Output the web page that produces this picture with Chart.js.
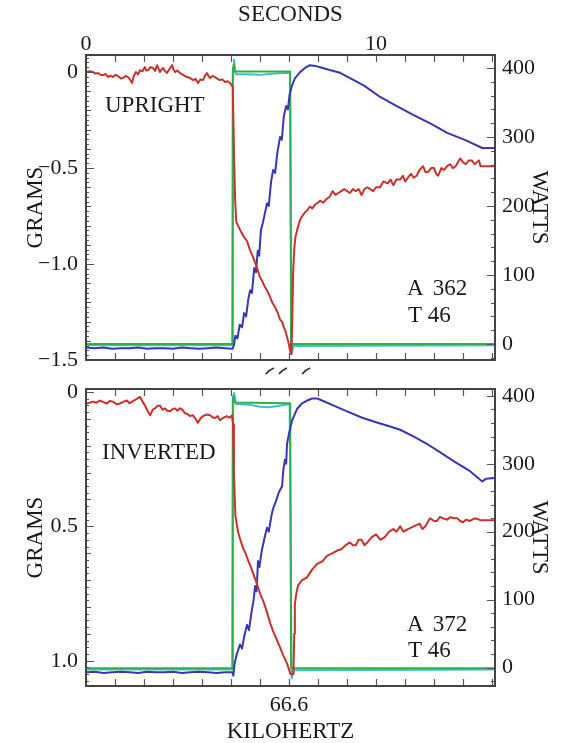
<!DOCTYPE html>
<html>
<head>
<meta charset="utf-8">
<title>Upright / Inverted</title>
<script src="https://cdn.jsdelivr.net/npm/chart.js@4.4.1/dist/chart.umd.min.js"></script>
<style>
    body { margin: 0; background: #fff; font-family: "Liberation Serif", "Times New Roman", Times, serif; }
    .panel { position: absolute; left: 0; width: 568px; }
</style>
</head>
<body>
<div class="panel" style="top:0;height:380px"><canvas id="upChart" width="568" height="380"></canvas></div>
<div class="panel" style="top:370px;height:373px"><canvas id="invChart" width="568" height="373"></canvas></div>
<script>
// tick labels
const secTicks = [0, 10];
const khzTicks = [7];
const khzLabels = ['66.6'];
const upGramTicks = [0, -0.5, -1.0, -1.5];
const invGramTicks = [0, 0.5, 1.0];
const wattTicks = [0, 100, 200, 300, 400];

// UPRIGHT: [seconds, grams]
const upRed = [[0,0],[0.12,0.004],[0.24,0],[0.33,-0.008],[0.41,-0.005],[0.5,-0.014],[0.59,-0.016],[0.68,-0.01],
    [0.76,-0.026],[0.85,-0.018],[0.93,-0.026],[1.02,-0.014],[1.10,-0.021],[1.2,-0.034],[1.28,-0.031],[1.36,-0.02],
    [1.45,-0.026],[1.52,-0.04],[1.59,-0.057],[1.65,-0.02],[1.72,0],[1.8,-0.012],[1.86,0.01],[1.95,0.004],
    [2.03,0.026],[2.08,0.008],[2.14,0.01],[2.22,0.026],[2.31,0.021],[2.38,0.006],[2.45,0.036],[2.55,0],
    [2.6,0.012],[2.66,0.021],[2.72,0.006],[2.79,-0.005],[2.88,0.016],[2.97,0.036],[3.02,0.012],[3.07,0],
    [3.15,0.008],[3.24,-0.005],[3.36,-0.016],[3.48,-0.026],[3.58,-0.03],[3.69,-0.042],[3.78,-0.036],[3.86,-0.057],
    [3.95,-0.038],[4.03,-0.042],[4.1,-0.02],[4.17,-0.005],[4.22,-0.02],[4.28,-0.031],[4.36,-0.02],[4.45,-0.026],
    [4.54,-0.036],[4.62,-0.042],[4.7,-0.038],[4.79,-0.052],[4.88,-0.048],[4.97,-0.057],[5.06,-0.078],
    [5.10,-0.4],[5.14,-0.66],[5.18,-0.78],[5.24,-0.80],[5.34,-0.83],[5.45,-0.86],[5.55,-0.88],[5.66,-0.93],
    [5.75,-0.96],[5.85,-1.0],[6.0,-1.07],[6.08,-1.09],[6.17,-1.12],[6.25,-1.14],[6.34,-1.17],[6.42,-1.2],
    [6.5,-1.22],[6.6,-1.25],[6.69,-1.29],[6.76,-1.3],[6.82,-1.33],[6.88,-1.35],[6.93,-1.38],[7.0,-1.42],
    [7.03,-1.45],[7.08,-1.47],[7.11,-1.3],[7.14,-1.05],[7.18,-0.92],[7.22,-0.86],[7.3,-0.81],[7.38,-0.77],
    [7.46,-0.75],[7.55,-0.73],[7.63,-0.72],[7.72,-0.70],[7.8,-0.71],[7.9,-0.69],[8.0,-0.68],[8.07,-0.67],
    [8.18,-0.68],[8.3,-0.66],[8.4,-0.65],[8.5,-0.62],[8.6,-0.64],[8.7,-0.63],[8.8,-0.62],[8.9,-0.61],[9.0,-0.62],
    [9.1,-0.63],[9.2,-0.61],[9.3,-0.62],[9.4,-0.61],[9.5,-0.64],[9.6,-0.61],[9.7,-0.60],[9.8,-0.61],[9.9,-0.62],
    [10.0,-0.6],[10.14,-0.60],[10.25,-0.57],[10.4,-0.58],[10.5,-0.56],[10.6,-0.59],[10.7,-0.56],[10.83,-0.56],
    [10.92,-0.54],[11.0,-0.57],[11.1,-0.55],[11.2,-0.53],[11.3,-0.55],[11.4,-0.54],[11.5,-0.51],[11.62,-0.49],
    [11.7,-0.52],[11.8,-0.52],[11.9,-0.50],[12.0,-0.50],[12.07,-0.53],[12.14,-0.54],[12.25,-0.5],[12.35,-0.51],
    [12.45,-0.49],[12.55,-0.48],[12.65,-0.5],[12.75,-0.49],[12.82,-0.47],[12.9,-0.45],[13.0,-0.47],[13.1,-0.48],
    [13.2,-0.46],[13.3,-0.46],[13.4,-0.48],[13.48,-0.47],[13.55,-0.46],[13.6,-0.49],[14.1,-0.49]];
// [seconds, watts]
const upBlue = [[0,-5],[0.3,-6],[0.6,-5],[0.9,-7],[1.2,-6],[1.5,-6],[1.8,-5],[2.1,-7],[2.4,-6],[2.7,-6],[3.0,-7],
    [3.3,-5],[3.6,-6],[3.9,-7],[4.2,-6],[4.5,-5],[4.8,-6],[5.05,-7],[5.1,-2],[5.15,12],[5.22,8],[5.3,28],[5.38,24],
    [5.45,45],[5.52,40],[5.6,66],[5.66,78],[5.72,74],[5.8,110],[5.86,104],[5.92,135],[5.97,128],[6.03,165],[6.1,176],
    [6.17,190],[6.24,204],[6.3,200],[6.38,235],[6.45,252],[6.52,248],[6.6,278],[6.69,300],[6.75,296],[6.82,330],
    [6.9,345],[6.96,340],[7.02,362],[7.1,374],[7.2,385],[7.38,394],[7.55,400],[7.72,404],[7.9,403],[8.07,401],
    [8.4,397],[8.76,393],[9.2,383],[9.6,374],[10.14,358],[10.7,345],[11.28,332],[11.9,319],[12.45,306],[13.1,295],
    [13.66,284],[14.1,284]];
const upGreen = [[0,0],[5.04,0],[5.06,395],[5.09,405],[5.13,395],[7.04,395],[7.07,0],[14.1,0]];
const upCyan = [[0,-2],[5.04,-2],[5.07,400],[5.1,412],[5.16,391],[5.5,391],[6.0,390],[6.5,392],[7.03,393],
    [7.09,-14],[7.16,-3],[14.1,-2]];

// INVERTED
const invRed = [[0,0.043],[0.12,0.04],[0.24,0.036],[0.36,0.04],[0.48,0.032],[0.6,0.038],[0.72,0.043],[0.82,0.034],
    [0.93,0.036],[1.05,0.046],[1.17,0.043],[1.3,0.036],[1.41,0.032],[1.5,0.042],[1.59,0.036],[1.72,0.028],
    [1.86,0.018],[1.95,0.036],[2.03,0.05],[2.12,0.07],[2.21,0.087],[2.3,0.066],[2.38,0.061],[2.46,0.052],
    [2.55,0.05],[2.64,0.066],[2.72,0.061],[2.8,0.07],[2.9,0.072],[2.98,0.064],[3.07,0.061],[3.15,0.07],
    [3.24,0.061],[3.32,0.066],[3.41,0.079],[3.5,0.082],[3.59,0.09],[3.68,0.086],[3.76,0.097],[3.86,0.115],
    [3.95,0.098],[4.03,0.09],[4.15,0.084],[4.28,0.087],[4.36,0.094],[4.45,0.097],[4.54,0.09],[4.62,0.105],
    [4.74,0.096],[4.86,0.09],[4.95,0.096],[5.03,0.087],[5.07,0.12],[5.1,0.3],[5.15,0.46],[5.24,0.52],[5.32,0.55],
    [5.41,0.58],[5.5,0.6],[5.6,0.63],[5.68,0.65],[5.76,0.675],[5.88,0.71],[6.0,0.75],[6.12,0.78],[6.24,0.82],
    [6.35,0.86],[6.45,0.89],[6.57,0.92],[6.69,0.95],[6.8,0.98],[6.93,1.01],[7.05,1.05],[7.15,1.05],[7.18,0.9],
    [7.2,0.79],[7.25,0.75],[7.31,0.72],[7.45,0.7],[7.62,0.69],[7.8,0.66],[7.97,0.64],[8.15,0.63],[8.31,0.61],
    [8.5,0.6],[8.66,0.59],[8.8,0.585],[8.95,0.57],[9.1,0.56],[9.2,0.57],[9.3,0.57],[9.4,0.55],[9.5,0.55],
    [9.6,0.57],[9.7,0.56],[9.85,0.54],[10.0,0.53],[10.15,0.55],[10.3,0.54],[10.45,0.52],[10.6,0.51],[10.7,0.52],
    [10.83,0.50],[10.95,0.52],[11.1,0.51],[11.3,0.5],[11.5,0.49],[11.6,0.51],[11.7,0.50],[11.86,0.47],[12.0,0.48],
    [12.1,0.48],[12.2,0.465],[12.3,0.47],[12.45,0.475],[12.55,0.466],[12.7,0.47],[12.8,0.47],[12.9,0.48],
    [13.0,0.485],[13.1,0.475],[13.24,0.48],[13.4,0.47],[13.6,0.477],[14.1,0.477]];
const invBlue = [[0,-7],[0.3,-6],[0.6,-8],[0.9,-7],[1.2,-6],[1.5,-7],[1.8,-8],[2.1,-6],[2.4,-7],[2.7,-7],[3.0,-6],
    [3.3,-8],[3.6,-7],[3.9,-6],[4.2,-7],[4.5,-8],[4.8,-7],[5.05,-7],[5.08,-12],[5.12,5],[5.2,20],[5.31,34],[5.38,28],
    [5.45,45],[5.55,63],[5.62,55],[5.7,80],[5.78,100],[5.83,120],[5.88,112],[5.93,157],[5.98,148],[6.05,170],
    [6.15,190],[6.24,206],[6.3,200],[6.4,225],[6.45,234],[6.55,245],[6.65,258],[6.76,267],[6.8,290],[6.86,306],
    [6.9,300],[6.93,329],[7.0,345],[7.1,363],[7.28,381],[7.45,389],[7.62,393],[7.8,396],[7.97,396],[8.2,392],
    [8.52,386],[9.0,377],[9.5,368],[10.0,361],[10.4,356],[10.83,350],[11.3,340],[11.8,328],[12.2,317],[12.7,303],
    [13.24,289],[13.66,274],[13.8,278],[14.1,279]];
const invGreen = [[0,-1],[5.04,-1],[5.06,392],[5.09,400],[5.13,390],[7.04,389],[7.07,-1],[14.1,-1]];
const invCyan = [[0,-3],[5.04,-3],[5.07,398],[5.11,404],[5.17,388],[5.6,387],[6.0,384],[6.3,383],[6.6,385],
    [7.02,388],[7.09,-16],[7.17,-4],[14.1,-3]];

const FONT = '"Liberation Serif", "Times New Roman", Times, serif';
const INK = '#1a1a1a';
Chart.defaults.font.family = FONT;
Chart.defaults.color = INK;

function toPoints(arr) {
    return arr.map(p => ({x: p[0], y: p[1]}));
}

function series(arr, color, axis) {
    return {
        data: toPoints(arr),
        borderColor: color,
        borderWidth: 2,
        pointRadius: 0,
        tension: 0,
        borderJoinStyle: 'round',
        yAxisID: axis
    };
}

function gramLabel(v) {
    if (v === 0) return '0';
    return (v < 0 ? '\u2212' : '') + Math.abs(v).toFixed(1);
}

// frame, inward ticks, notes and break marks
const framePlugin = {
    id: 'frame',
    afterDatasetsDraw(chart, args, opts) {
        const {ctx, chartArea: a, scales} = chart;
        const x = scales.x, g = scales.grams, w = scales.watts;
        ctx.save();
        ctx.strokeStyle = '#555';
        ctx.lineWidth = 1.2;
        ctx.beginPath();
        for (let s = Math.ceil(x.min); s <= x.max; s++) {
            const px = Math.round(x.getPixelForValue(s)) + 0.5;
            ctx.moveTo(px, a.top); ctx.lineTo(px, a.top + 7);
            ctx.moveTo(px, a.bottom); ctx.lineTo(px, a.bottom - 7);
        }
        for (let i = Math.ceil(g.min / 0.025); i <= Math.floor(g.max / 0.025); i++) {
            const py = Math.round(g.getPixelForValue(i * 0.025)) + 0.5;
            const len = Math.abs(i) % 20 === 0 ? 8 : (Math.abs(i) % 4 === 0 ? 5 : 3);
            ctx.moveTo(a.left, py); ctx.lineTo(a.left + len, py);
        }
        for (let v = Math.ceil(w.min / 20) * 20; v <= w.max; v += 20) {
            const py = Math.round(w.getPixelForValue(v)) + 0.5;
            const len = v % 100 === 0 ? 8 : 4;
            ctx.moveTo(a.right, py); ctx.lineTo(a.right - len, py);
        }
        ctx.stroke();

        ctx.strokeStyle = '#444';
        ctx.lineWidth = 2;
        ctx.strokeRect(a.left, a.top, a.right - a.left, a.bottom - a.top);

        ctx.fillStyle = INK;
        ctx.font = '23px ' + FONT;
        ctx.textBaseline = 'middle';
        ctx.textAlign = 'left';
        (opts.notes || []).forEach(n => ctx.fillText(n.text, a.left + n.dx, a.top + n.dy));

        ctx.strokeStyle = '#333';
        ctx.lineWidth = 1.8;
        (opts.breaks || []).forEach(s => {
            const px = x.getPixelForValue(s), py = a.bottom + 11;
            ctx.beginPath();
            ctx.moveTo(px - 4, py + 3);
            ctx.quadraticCurveTo(px - 1, py - 1, px + 4, py - 3);
            ctx.stroke();
        });
        ctx.restore();
    }
};

function makePanel(canvasId, cfg) {
    const ctx = document.getElementById(canvasId).getContext('2d');
    const titleFont = {size: 23, lineHeight: 1};
    const tickFont = {size: 22, lineHeight: 1};
    return new Chart(ctx, {
        type: 'line',
        data: {
            datasets: [
                series(cfg.red, '#c8322c', 'grams'),
                series(cfg.blue, '#3737b6', 'watts'),
                series(cfg.green, '#2eb04a', 'watts'),
                series(cfg.cyan, '#3fbfc6', 'watts')
            ]
        },
        options: {
            responsive: false,
            devicePixelRatio: 1,
            animation: false,
            layout: {padding: cfg.padding},
            plugins: {
                legend: {display: false},
                tooltip: {enabled: false},
                frame: {notes: cfg.notes, breaks: cfg.breaks}
            },
            scales: {
                x: {
                    type: 'linear',
                    position: cfg.xPos,
                    min: 0,
                    max: 14.1,
                    grid: {display: false, drawTicks: false},
                    border: {display: false},
                    afterFit: s => { s.height = cfg.xHeight; },
                    afterBuildTicks: s => { s.ticks = cfg.xTicks.map(v => ({value: v})); },
                    ticks: {
                        font: tickFont,
                        padding: cfg.xPad,
                        maxRotation: 0,
                        callback: cfg.xLabel
                    },
                    title: {
                        display: true,
                        text: cfg.xTitle,
                        font: titleFont,
                        padding: {top: 3, bottom: 0}
                    }
                },
                grams: {
                    type: 'linear',
                    position: 'left',
                    min: cfg.gMin,
                    max: cfg.gMax,
                    reverse: cfg.gReverse,
                    grid: {display: false, drawTicks: false},
                    border: {display: false},
                    afterFit: s => { s.width = 86; },
                    afterBuildTicks: s => { s.ticks = cfg.gTicks.map(v => ({value: v})); },
                    ticks: {font: tickFont, padding: 8, callback: v => gramLabel(v)},
                    title: {
                        display: true,
                        text: 'GRAMS',
                        font: titleFont,
                        padding: {top: 24, bottom: 0}
                    }
                },
                watts: {
                    type: 'linear',
                    position: 'right',
                    min: cfg.wMin,
                    max: cfg.wMax,
                    grid: {display: false, drawTicks: false},
                    border: {display: false},
                    afterFit: s => { s.width = 73; },
                    afterBuildTicks: s => { s.ticks = wattTicks.map(v => ({value: v})); },
                    ticks: {font: tickFont, padding: 7},
                    title: {
                        display: true,
                        text: 'WATTS',
                        font: titleFont,
                        padding: {top: 17, bottom: 0}
                    }
                }
            }
        },
        plugins: [framePlugin]
    });
}

makePanel('upChart', {
    red: upRed, blue: upBlue, green: upGreen, cyan: upCyan,
    padding: {top: 0, bottom: 20, left: 0, right: 0},
    xPos: 'top', xHeight: 55, xPad: 0,
    xTicks: secTicks, xLabel: v => String(v), xTitle: 'SECONDS',
    gMin: -1.5, gMax: 0.089, gReverse: false, gTicks: upGramTicks,
    wMin: -23.2, wMax: 418.8,
    notes: [
        {text: 'UPRIGHT', dx: 19, dy: 51},
        {text: 'A\u2009\u2009362', dx: 321, dy: 234},
        {text: 'T 46', dx: 322, dy: 261}
    ],
    breaks: [6.34, 6.79, 7.59]
});

makePanel('invChart', {
    red: invRed, blue: invBlue, green: invGreen, cyan: invCyan,
    padding: {top: 10, bottom: 0, left: 0, right: 0},
    xPos: 'bottom', xHeight: 57, xPad: 8,
    xTicks: khzTicks, xLabel: (v, i) => khzLabels[i], xTitle: 'KILOHERTZ',
    gMin: -0.011, gMax: 1.094, gReverse: true, gTicks: invGramTicks,
    wMin: -27.1, wMax: 410,
    notes: [
        {text: 'INVERTED', dx: 16, dy: 64},
        {text: 'A\u2009\u2009372', dx: 321, dy: 236},
        {text: 'T 46', dx: 322, dy: 262}
    ],
    breaks: []
});
</script>
</body>
</html>
